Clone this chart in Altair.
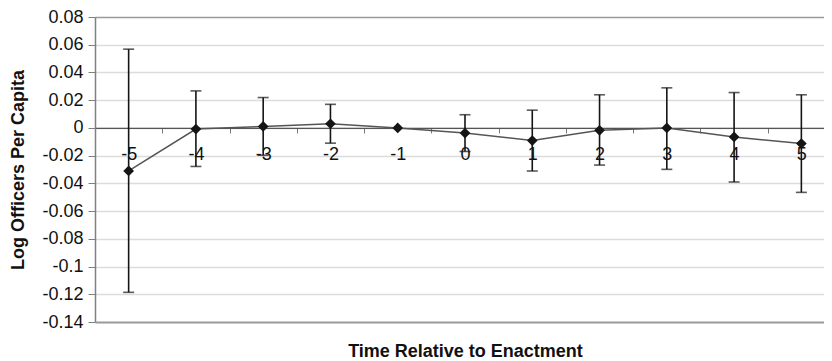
import altair as alt
import pandas as pd

periods = ["-5", "-4", "-3", "-2", "-1", "0", "1", "2", "3", "4", "5"]
estimates = [-0.031, -0.0008, 0.0011, 0.003, 0.0, -0.0037, -0.0091, -0.0017, 0.0, -0.0065, -0.0113]
upper = [0.0568, 0.0267, 0.0219, 0.017, None, 0.0095, 0.0128, 0.0239, 0.0289, 0.0255, 0.0239]
lower = [-0.1186, -0.0278, -0.0197, -0.011, None, -0.017, -0.0311, -0.0268, -0.0299, -0.039, -0.0465]
y_ticks = [0.08, 0.06, 0.04, 0.02, 0, -0.02, -0.04, -0.06, -0.08, -0.1, -0.12, -0.14]

df = pd.DataFrame({"period": periods, "est": estimates, "hi": upper, "lo": lower})

W, H = 729, 305
X_RANGE = 740  # the reference's plot runs a little past the right edge of the picture
y_min, y_max = -0.14, 0.08
zero_offset = H * y_max / (y_max - y_min) - H
# keep the end ticks a hair inside the domain so none is dropped by rounding
tick_vals = [min(max(v, y_min + 1e-9), y_max - 1e-9) for v in y_ticks]

FONT = "Liberation Sans"

x_enc = alt.X(
    "period:N",
    sort=periods,
    scale=alt.Scale(type="band", paddingInner=0, paddingOuter=0, range=[0, X_RANGE]),
    axis=alt.Axis(
        offset=zero_offset,
        tickBand="extent",
        labelAngle=0,
        domainColor="#555555",
        domainWidth=1.3,
        tickColor="#777777",
        tickSize=5,
        labelFontSize=18,
        labelColor="#111111",
        labelPadding=13,
        labelFont=FONT,
        labelOverlap=False,
        title="Time Relative to Enactment",
        titleFont=FONT,
        titleFontSize=18,
        titleFontWeight="bold",
        titleColor="#111111",
        titlePadding=179,
        titleX=(95 + 835) / 2 - 95,
        grid=False,
    ),
)

y_scale = alt.Scale(domain=[y_min, y_max], nice=False, zero=False)

y_axis = alt.Axis(
    values=tick_vals,
    tickCount=20,
    labelExpr="'' + round(datum.value * 100) / 100",
    labelOverlap=False,
    grid=True,
    gridColor={"condition": {"test": "abs(datum.value - 0.08) < 0.001 || abs(datum.value + 0.14) < 0.001", "value": "#9a9a9a"}, "value": "#dcdcdc"},
    gridWidth={"condition": {"test": "abs(datum.value + 0.14) < 0.001", "value": 2}, "value": 1.3},
    domainColor="#808080",
    domainWidth=1.5,
    tickColor="#808080",
    tickSize=7,
    labelFontSize=18,
    labelColor="#111111",
    labelPadding=5,
    labelFont=FONT,
    title="Log Officers Per Capita",
    titleFont=FONT,
    titleFontSize=18,
    titleFontWeight="bold",
    titleColor="#111111",
    titlePadding=14,
)

base = alt.Chart(df)

line = base.mark_line(color="#555555", strokeWidth=1.5).encode(
    x=x_enc, y=alt.Y("est:Q", scale=y_scale, axis=y_axis)
)

bars = base.mark_rule(color="#151515", strokeWidth=1.6).encode(
    x=alt.X("period:N", sort=periods), y=alt.Y("lo:Q"), y2="hi:Q"
)

cap_hi = base.mark_tick(color="#151515", size=11, thickness=1.6).encode(
    x=alt.X("period:N", sort=periods), y=alt.Y("hi:Q")
)
cap_lo = base.mark_tick(color="#151515", size=11, thickness=1.6).encode(
    x=alt.X("period:N", sort=periods), y=alt.Y("lo:Q")
)

points = base.mark_point(shape="diamond", filled=True, size=115, color="#151515", opacity=1).encode(
    x=alt.X("period:N", sort=periods), y=alt.Y("est:Q")
)

chart = (
    alt.layer(line, bars, cap_hi, cap_lo, points)
    .properties(
        width=W,
        height=H,
        autosize=alt.AutoSizeParams(type="none"),
        padding={"left": 87, "top": 9, "right": 0, "bottom": 38},
        background="white",
    )
    .configure_view(stroke=None)
)

chart.save("out.html", embed_options={"renderer": "svg", "actions": False})
